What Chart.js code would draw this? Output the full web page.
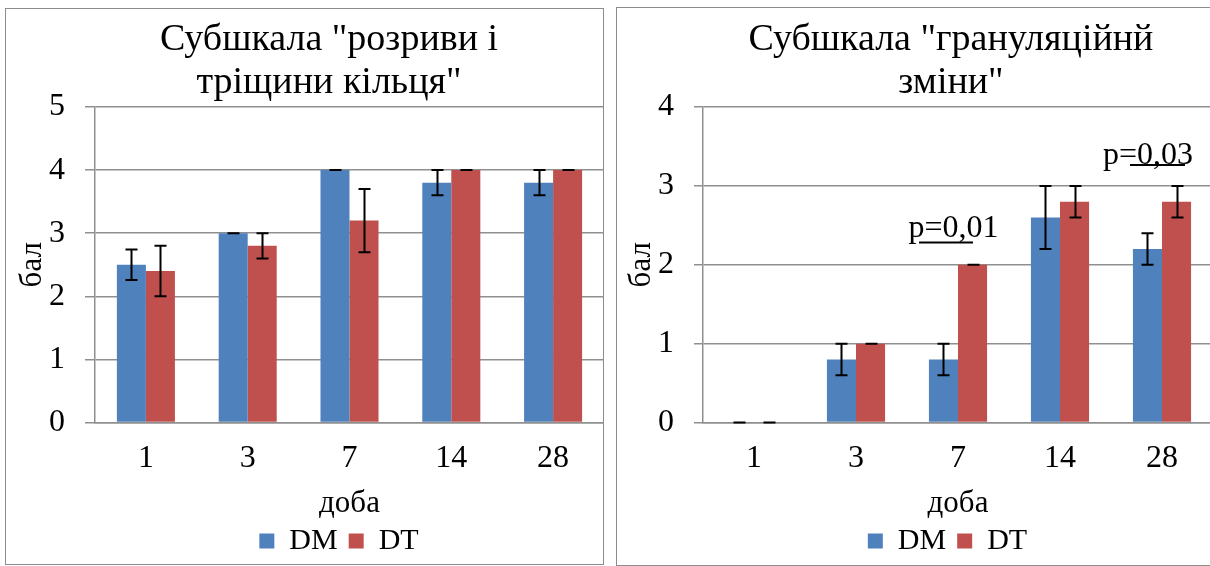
<!DOCTYPE html>
<html><head><meta charset="utf-8">
<script src="https://cdn.jsdelivr.net/npm/chart.js@4.4.1/dist/chart.umd.min.js"></script>
<style>
html,body{margin:0;padding:0;background:#fff;width:1210px;height:566px;overflow:hidden;position:relative}
.panel{position:absolute;border:1.5px solid #8c8c8c;box-sizing:border-box}
.wrap{position:absolute;top:0;height:566px}
</style></head><body>
<div class="panel" style="left:5px;top:8px;width:599px;height:557px"></div>
<div class="panel" style="left:616px;top:7px;width:610px;height:559px"></div>
<div class="wrap" style="left:0;width:604px"><canvas id="c1"></canvas></div>
<div class="wrap" style="left:606px;width:610px"><canvas id="c2"></canvas></div>
<script>
// ---- data ----
const categories = ['1', '3', '7', '14', '28'];
const seriesNames = ['DM', 'DT'];
const xTitle = 'доба';
const yTitle = 'бал';

// chart 1: "розриви і тріщини кільця"
const rupturesTitle = ['Субшкала "розриви і', 'тріщини кільця"'];
const rupturesDM = [2.5, 3.0, 4.0, 3.8, 3.8];
const rupturesDT = [2.4, 2.8, 3.2, 4.0, 4.0];
const rupturesDMErr = [0.24, 0, 0, 0.2, 0.2];
const rupturesDTErr = [0.4, 0.2, 0.5, 0, 0];
const rupturesYTicks = [0, 1, 2, 3, 4, 5];

// chart 2: "грануляційнй зміни"
const granTitle = ['Субшкала "грануляційнй', 'зміни"'];
const granDM = [0, 0.8, 0.8, 2.6, 2.2];
const granDT = [0, 1.0, 2.0, 2.8, 2.8];
const granDMErr = [0, 0.2, 0.2, 0.4, 0.2];
const granDTErr = [0, 0, 0, 0.2, 0.2];
const granYTicks = [0, 1, 2, 3, 4];
const pLabels = ['p=0,01', 'p=0,03'];
const pCategories = ['7', '28'];

// ---- styling / layout ----
const FONT = "'Liberation Serif','Times New Roman',serif";
const GRID = '#8f8f8f';
const BLUE = '#4F81BD', RED = '#C0504D';

const errorBarPlugin = {
  id: 'errorBars',
  afterDatasetsDraw(chart) {
    const ctx = chart.ctx, y = chart.scales.y;
    ctx.save();
    ctx.strokeStyle = '#000';
    ctx.lineWidth = 2;
    chart.data.datasets.forEach((ds, i) => {
      const meta = chart.getDatasetMeta(i);
      if (meta.hidden) return;
      meta.data.forEach((bar, j) => {
        const v = ds.data[j], e = ds.errors[j];
        const x = Math.round(bar.x) + 0.5;
        const yt = y.getPixelForValue(v + e), yb = y.getPixelForValue(v - e);
        ctx.beginPath();
        if (e > 0) { ctx.moveTo(x, yt); ctx.lineTo(x, yb); }
        ctx.moveTo(x - 6, yt); ctx.lineTo(x + 6, yt);
        ctx.moveTo(x - 6, yb); ctx.lineTo(x + 6, yb);
        ctx.stroke();
      });
    });
    ctx.restore();
  }
};

const boxCenterPlugin = {
  id: 'boxCenter',
  afterLayout(chart, args, opts) {
    const t = chart.titleBlock;
    if (t && opts.titleX != null) { const d = opts.titleX - (t.left + t.right) / 2; t.left += d; t.right += d; }
    const l = chart.legend;
    if (l && opts.legendX != null) { const d = opts.legendX - (l.left + l.right) / 2; l.left += d; l.right += d; }
  }
};

const pNotePlugin = {
  id: 'pNotes',
  afterDatasetsDraw(chart, args, opts) {
    const notes = opts.notes || [];
    if (!notes.length) return;
    const ctx = chart.ctx, xs = chart.scales.x, ys = chart.scales.y;
    ctx.save();
    ctx.fillStyle = '#000'; ctx.strokeStyle = '#000'; ctx.lineWidth = 2;
    ctx.font = '32px ' + FONT;
    ctx.textAlign = 'center'; ctx.textBaseline = 'alphabetic';
    notes.forEach(n => {
      const base = categories.indexOf(n.cat);
      ctx.fillText(n.text, xs.getPixelForValue(base + n.dx), ys.getPixelForValue(n.val));
      const uy = ys.getPixelForValue(n.ulVal);
      ctx.beginPath();
      ctx.moveTo(xs.getPixelForValue(base + n.ulFrom), uy);
      ctx.lineTo(xs.getPixelForValue(base + n.ulTo), uy);
      ctx.stroke();
    });
    ctx.restore();
  }
};

function buildChart(id, cfg) {
  return new Chart(document.getElementById(id), {
    type: 'bar',
    data: {
      labels: categories,
      datasets: [
        { label: seriesNames[0], data: cfg.dm, errors: cfg.dmErr, backgroundColor: BLUE, borderWidth: 0, categoryPercentage: 0.57, barPercentage: 1 },
        { label: seriesNames[1], data: cfg.dt, errors: cfg.dtErr, backgroundColor: RED, borderWidth: 0, categoryPercentage: 0.57, barPercentage: 1 }
      ]
    },
    options: {
      responsive: true, maintainAspectRatio: false, animation: false, devicePixelRatio: 1,
      layout: { padding: { left: 0, right: cfg.padRight, top: 0, bottom: 0 } },
      plugins: {
        title: { display: true, text: cfg.title, color: '#000',
          font: { family: FONT, size: 38, weight: 'normal', lineHeight: '43px' },
          padding: { top: 18.5, bottom: 2.5 } },
        legend: { position: 'bottom',
          labels: { color: '#000', font: { family: FONT, size: 30 }, boxWidth: 15, boxHeight: 15, padding: 11 } },
        tooltip: { enabled: false },
        boxCenter: { titleX: cfg.titleX, legendX: cfg.legendX },
        pNotes: { notes: cfg.notes || [] }
      },
      scales: {
        x: {
          grid: { display: false, drawTicks: false },
          border: { display: true, color: GRID, width: 1.5 },
          ticks: { color: '#000', font: { family: FONT, size: 32 }, padding: 17, maxRotation: 0, autoSkip: false },
          title: { display: true, text: xTitle, color: '#000', font: { family: FONT, size: 31, lineHeight: '22px' }, padding: { top: 0, bottom: 0 } },
          afterFit(s) { s.height = 92.5; }
        },
        y: {
          min: cfg.yTicks[0], max: cfg.yTicks[cfg.yTicks.length - 1],
          afterBuildTicks(s) { s.ticks = cfg.yTicks.map(v => ({ value: v })); },
          ticks: { color: '#000', font: { family: FONT, size: 32 }, padding: 20 },
          grid: { color: GRID, lineWidth: 1.5, tickLength: cfg.tickLen, drawTicks: true },
          border: { display: true, color: GRID, width: 1.5 },
          title: { display: true, text: yTitle, color: '#000', font: { family: FONT, size: 31 }, padding: { top: cfg.yTitlePad, bottom: 0 } },
          afterFit(s) { s.width = cfg.yWidth; }
        }
      }
    },
    plugins: [errorBarPlugin, boxCenterPlugin, pNotePlugin]
  });
}

buildChart('c1', {
  title: rupturesTitle, dm: rupturesDM, dt: rupturesDT, dmErr: rupturesDMErr, dtErr: rupturesDTErr,
  yTicks: rupturesYTicks, yWidth: 95, padRight: 0, tickLen: 10, yTitlePad: 13.9,
  titleX: 329, legendX: 339
});

buildChart('c2', {
  title: granTitle, dm: granDM, dt: granDT, dmErr: granDMErr, dtErr: granDTErr,
  yTicks: granYTicks, yWidth: 97, padRight: 3, tickLen: 9, yTitlePad: 16.9,
  titleX: 345, legendX: 341.5,
  notes: [
    { text: pLabels[0], cat: pCategories[0], dx: -0.044, val: 2.346, ulFrom: -0.382, ulTo: 0.147, ulVal: 2.283 },
    { text: pLabels[1], cat: pCategories[1], dx: -0.137, val: 3.28, ulFrom: -0.314, ulTo: 0.225, ulVal: 3.266 }
  ]
});
</script>
</body></html>
